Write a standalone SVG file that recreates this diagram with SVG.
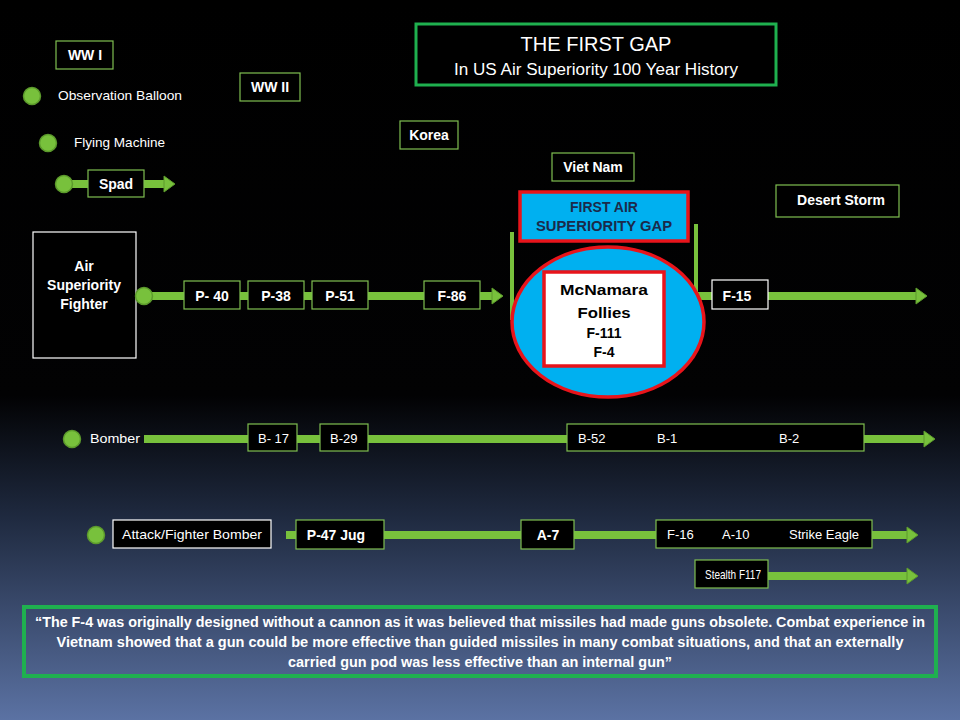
<svg xmlns="http://www.w3.org/2000/svg" width="960" height="720" viewBox="0 0 960 720">
<defs>
<linearGradient id="bg" x1="0" y1="0" x2="0" y2="1">
<stop offset="0" stop-color="#000"/>
<stop offset="0.55" stop-color="#020203"/>
<stop offset="0.72" stop-color="#1f2a40"/>
<stop offset="1" stop-color="#5b72a3"/>
</linearGradient>
<marker id="ah" markerUnits="userSpaceOnUse" markerWidth="14" markerHeight="20" refX="2" refY="10" orient="auto">
<path d="M2,2 L13,10 L2,18 Z" fill="#78c13c" stroke="#5c9a2c" stroke-width="1"/>
</marker>
<style>
text{font-family:"Liberation Sans",Arial,sans-serif;fill:#fff}
.lbl{font-size:14px;font-weight:bold;text-anchor:middle}
.sm{font-size:13px}
.era{fill:#000;stroke:#7fbf50;stroke-width:1.2}
.wb{fill:#000;stroke:#fff;stroke-width:1.2}
.dot{fill:#78c13c;stroke:#5c9a2c;stroke-width:1.5}
.bar{stroke:#78c13c;stroke-width:8;fill:none}
.vbar{stroke:#78c13c;stroke-width:4}
.red{stroke:#e8141b;stroke-width:3.5}
</style>
</defs>
<rect width="960" height="720" fill="url(#bg)"/>

<g id="connectors">
<line class="bar" x1="72" y1="184" x2="164" y2="184" marker-end="url(#ah)"/>
<line class="bar" x1="144" y1="296" x2="492" y2="296" marker-end="url(#ah)"/>
<line class="bar" x1="696" y1="296" x2="916" y2="296" marker-end="url(#ah)"/>
<line class="bar" x1="144" y1="439" x2="924" y2="439" marker-end="url(#ah)"/>
<line class="bar" x1="286" y1="535" x2="907" y2="535" marker-end="url(#ah)"/>
<line class="bar" x1="768" y1="576" x2="907" y2="576" marker-end="url(#ah)"/>
<line class="vbar" x1="512" y1="232" x2="512" y2="320"/>
<line class="vbar" x1="696" y1="224" x2="696" y2="297"/>
</g>

<g id="title">
<rect x="416" y="24" width="360" height="61" fill="#000" stroke="#1fb04f" stroke-width="3"/>
<text x="596" y="51" font-size="20" text-anchor="middle">THE FIRST GAP</text>
<text x="596" y="75" font-size="16" text-anchor="middle" textLength="284" lengthAdjust="spacingAndGlyphs">In US Air Superiority  100 Year History</text>
</g>

<g id="ww1"><rect class="era" x="56" y="41" width="57" height="28"/><text class="lbl" x="85" y="60" font-size="13">WW I</text></g>
<g id="ww2"><rect class="era" x="240" y="73" width="60" height="28"/><text class="lbl" x="270" y="92" font-size="13">WW II</text></g>
<g id="korea"><rect class="era" x="400" y="121" width="58" height="28"/><text class="lbl" x="429" y="140" font-size="13">Korea</text></g>
<g id="vietnam"><rect class="era" x="552" y="153" width="82" height="28"/><text class="lbl" x="593" y="172" font-size="13">Viet Nam</text></g>
<g id="desertstorm"><rect class="era" x="776" y="185" width="123" height="32"/><text class="lbl" x="841" y="205" font-size="15">Desert Storm</text></g>

<g id="balloon"><circle class="dot" cx="32" cy="96" r="8.5"/><text class="sm" x="58" y="100" textLength="124" lengthAdjust="spacingAndGlyphs">Observation Balloon</text></g>
<g id="flying"><circle class="dot" cx="48" cy="143" r="8.5"/><text class="sm" x="74" y="147" textLength="91" lengthAdjust="spacingAndGlyphs">Flying Machine</text></g>
<g id="spad"><circle class="dot" cx="64" cy="184" r="8.5"/><rect class="era" x="88" y="170" width="56" height="27"/><text class="lbl" x="116" y="189" font-size="13">Spad</text></g>

<g id="asf">
<rect class="wb" x="33" y="232" width="103" height="126"/>
<text class="lbl" x="84" y="271">Air</text>
<text class="lbl" x="84" y="290">Superiority</text>
<text class="lbl" x="84" y="309">Fighter</text>
<circle class="dot" cx="144" cy="296" r="8.5"/>
</g>
<g id="p40"><rect class="era" x="184" y="281" width="56" height="28"/><text class="lbl" x="212" y="301">P- 40</text></g>
<g id="p38"><rect class="era" x="248" y="281" width="56" height="28"/><text class="lbl" x="276" y="301">P-38</text></g>
<g id="p51"><rect class="era" x="312" y="281" width="56" height="28"/><text class="lbl" x="340" y="301">P-51</text></g>
<g id="f86"><rect class="era" x="424" y="281" width="56" height="28"/><text class="lbl" x="452" y="301">F-86</text></g>

<g id="gap">
<rect class="red" x="520" y="192" width="168" height="49" fill="#00b0f0"/>
<text class="lbl" x="604" y="212" font-size="13" style="fill:#1b2a4a">FIRST AIR</text>
<text class="lbl" x="604" y="231" font-size="13" style="fill:#1b2a4a" textLength="136" lengthAdjust="spacingAndGlyphs">SUPERIORITY  GAP</text>
</g>
<g id="follies">
<ellipse class="red" cx="608" cy="322" rx="96" ry="75" fill="#00b0f0"/>
<rect class="red" x="544" y="272" width="120" height="94" fill="#fff"/>
<text class="lbl" x="604" y="295" font-size="19" style="fill:#000" textLength="88" lengthAdjust="spacingAndGlyphs">McNamara</text>
<text class="lbl" x="604" y="318" font-size="19" style="fill:#000" textLength="53" lengthAdjust="spacingAndGlyphs">Follies</text>
<text class="lbl" x="604" y="338" font-size="13" style="fill:#000">F-111</text>
<text class="lbl" x="604" y="357" font-size="13" style="fill:#000">F-4</text>
</g>
<g id="f15"><rect class="wb" x="712" y="280" width="56" height="29"/><text class="lbl" x="737" y="301">F-15</text></g>

<g id="bomber"><circle class="dot" cx="72" cy="439" r="8.5"/><text class="sm" x="90" y="443" textLength="50" lengthAdjust="spacingAndGlyphs">Bomber</text></g>
<g id="b17"><rect class="era" x="248" y="424" width="49" height="27"/><text class="sm" x="258" y="443">B- 17</text></g>
<g id="b29"><rect class="era" x="320" y="424" width="48" height="27"/><text class="sm" x="330" y="443">B-29</text></g>
<g id="b52"><rect class="era" x="567" y="424" width="297" height="27"/><text class="sm" x="578" y="443">B-52</text><text class="sm" x="657" y="443">B-1</text><text class="sm" x="779" y="443">B-2</text></g>

<g id="attack"><circle class="dot" cx="96" cy="535" r="8.5"/><rect class="wb" x="113" y="520" width="158" height="28"/><text class="sm" x="192" y="539" text-anchor="middle" textLength="140" lengthAdjust="spacingAndGlyphs">Attack/Fighter Bomber</text></g>
<g id="p47"><rect class="era" x="296" y="520" width="88" height="29"/><text class="lbl" x="336" y="540">P-47 Jug</text></g>
<g id="a7"><rect class="era" x="521" y="520" width="53" height="29"/><text class="lbl" x="548" y="540">A-7</text></g>
<g id="f16"><rect class="era" x="656" y="520" width="216" height="28"/><text class="sm" x="667" y="539">F-16</text><text class="sm" x="722" y="539">A-10</text><text class="sm" x="789" y="539">Strike Eagle</text></g>
<g id="f117"><rect class="era" x="695" y="560" width="73" height="28"/><text class="sm" x="705" y="579" textLength="56" lengthAdjust="spacingAndGlyphs">Stealth F117</text></g>

<g id="quote">
<rect x="24" y="607" width="912" height="69" fill="none" stroke="#1fb04f" stroke-width="4"/>
<text x="480" y="627" font-size="14" font-weight="bold" text-anchor="middle" textLength="890" lengthAdjust="spacingAndGlyphs">“The F-4 was originally designed without a cannon as it was believed that missiles had made guns obsolete. Combat experience in</text>
<text x="480" y="647" font-size="14" font-weight="bold" text-anchor="middle" textLength="847" lengthAdjust="spacingAndGlyphs">Vietnam showed that a gun could be more effective than guided missiles  in many combat situations, and that an externally</text>
<text x="480" y="667" font-size="14" font-weight="bold" text-anchor="middle" textLength="384" lengthAdjust="spacingAndGlyphs">carried gun pod was less effective than an internal gun”</text>
</g>
</svg>
